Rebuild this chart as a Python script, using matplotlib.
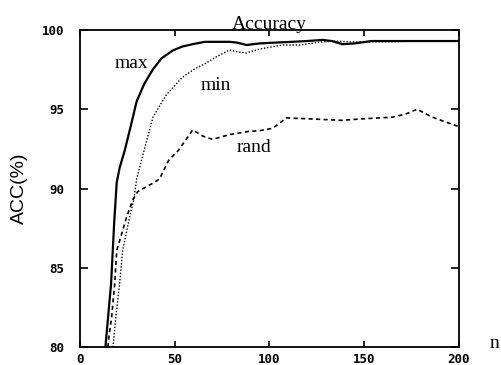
import matplotlib
matplotlib.use("Agg")
import matplotlib.pyplot as plt

# curves
max_n = [13.5, 15, 16.5, 18.2, 19.5, 21, 23.7, 27, 30, 34, 38.5, 43, 49, 54, 59.5,
         66, 72, 79, 83, 88, 95, 103, 112, 120, 128, 133, 138.6, 145, 154, 165, 180, 200]
max_acc = [80, 82, 84, 88.0, 90.4, 91.3, 92.4, 94, 95.5, 96.6, 97.5, 98.2, 98.7, 98.95, 99.1,
           99.25, 99.25, 99.25, 99.2, 99.05, 99.15, 99.2, 99.25, 99.3, 99.37, 99.3, 99.1,
           99.15, 99.3, 99.3, 99.3, 99.3]

min_n = [17.5, 19, 21, 22.6, 26.3, 28.5, 30, 32.6, 34, 38.6, 45.6, 54, 60, 66.5, 72,
         79, 84, 88, 95, 107, 116, 122, 128, 135, 142, 160, 180, 200]
min_acc = [80, 81.9, 84, 86.1, 88.2, 89.3, 90.6, 91.8, 92.45, 94.5, 95.9, 97.0, 97.5, 97.9, 98.3,
           98.74, 98.6, 98.55, 98.8, 99.05, 99.05, 99.15, 99.25, 99.3, 99.25, 99.25, 99.3, 99.3]

rand_n = [14.8, 15.3, 16.8, 18.4, 19.5, 24.7, 28, 30.5, 39.5, 42, 47, 52, 59.6, 65, 70, 79,
          89, 95, 101.8, 109, 120, 138, 150, 165, 172, 178, 186, 200]
rand_acc = [80, 80.6, 81.9, 84, 86.1, 88.2, 89.3, 89.8, 90.4, 90.6, 91.8, 92.4, 93.7, 93.3, 93.1,
            93.4, 93.6, 93.65, 93.8, 94.45, 94.4, 94.3, 94.4, 94.5, 94.7, 95.0, 94.5, 93.9]

x_ticks = [0, 50, 100, 150, 200]
y_ticks = [80, 85, 90, 95, 100]

fig = plt.figure(figsize=(5.02, 3.65), dpi=100)
ax = fig.add_axes([0.159, 0.049, 0.755, 0.869])

ax.plot(max_n, max_acc, color="black", lw=1.6, ls="-")
ax.plot(min_n, min_acc, color="black", lw=1.0, ls=(0, (1, 1.3)))
ax.plot(rand_n, rand_acc, color="black", lw=1.2, ls=(0, (2.5, 2)))

ax.set_xlim(0, 200)
ax.set_ylim(80, 100)
ax.set_xticks(x_ticks)
ax.set_yticks(y_ticks)

mono = {"family": "DejaVu Sans Mono", "weight": "bold", "size": 9}
ax.set_xticklabels([str(v) for v in x_ticks], fontdict=mono)
ax.set_yticklabels([str(v) for v in y_ticks], fontdict=mono)
ax.tick_params(axis="x", direction="in", length=4, width=1.2, pad=4, top=True)
ax.tick_params(axis="y", direction="in", length=6, width=1.2, pad=11, right=True)

for s in ax.spines.values():
    s.set_linewidth(1.3)

ax.set_title("Accuracy", family="Liberation Serif", fontsize=14, pad=1)
ax.set_ylabel("ACC(%)", family="Liberation Sans", fontsize=14, labelpad=10)

serif = {"family": "Liberation Serif", "size": 14}
ax.text(27.4, 97.86, "max", ha="center", va="center", fontdict=serif)
ax.text(72, 96.47, "min", ha="center", va="center", fontdict=serif)
ax.text(92, 92.56, "rand", ha="center", va="center", fontdict=serif)
fig.text(0.976, 0.06, "n", ha="left", va="center", family="Liberation Serif", fontsize=14)

fig.savefig("out.png", dpi=100)
